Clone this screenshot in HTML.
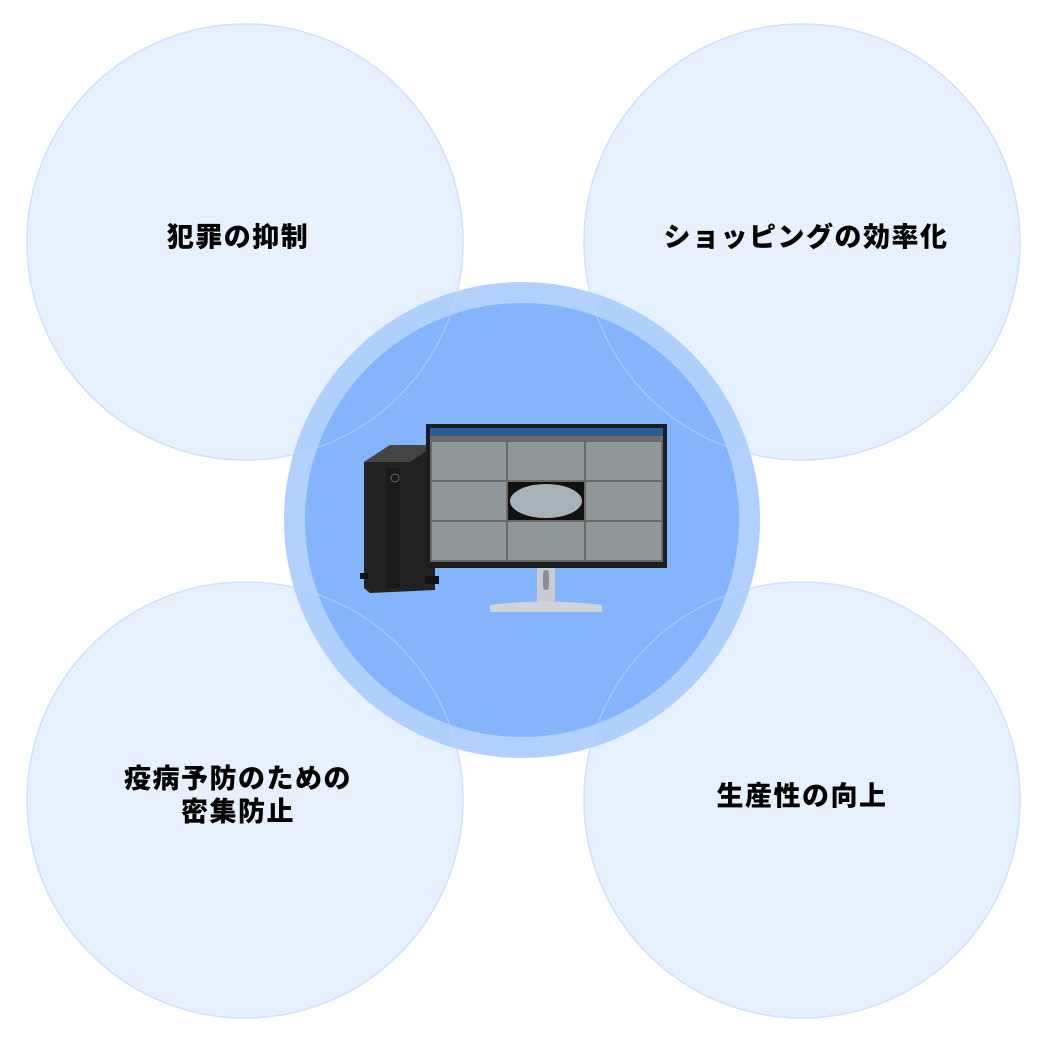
<!DOCTYPE html>
<html><head><meta charset="utf-8"><style>
body{margin:0;width:1045px;height:1041px;background:#fff;overflow:hidden;position:relative;font-family:"Liberation Sans","Noto Sans CJK JP",sans-serif}
.t{position:absolute;font-weight:900;font-size:27px;letter-spacing:1.5px;color:#000;text-align:center;line-height:33px;transform:translate(-50%,-50%);white-space:nowrap}
</style></head><body>
<svg width="1045" height="1041" style="position:absolute;left:0;top:0">
<g fill="#e6f0fe" stroke="#d3e3fb" stroke-width="1.5">
<circle cx="245" cy="242" r="218"/><circle cx="802" cy="242" r="218"/>
<circle cx="245" cy="800" r="218"/><circle cx="802" cy="800" r="218"/>
</g>
<circle cx="522" cy="520" r="238" fill="#a9cbfd" fill-opacity="0.9"/>
<circle cx="522" cy="520" r="217" fill="#84b4fc"/>
<g fill="none" stroke="#c9ddfb" stroke-width="1" opacity="0.6">
<circle cx="245" cy="242" r="218"/><circle cx="802" cy="242" r="218"/>
<circle cx="245" cy="800" r="218"/><circle cx="802" cy="800" r="218"/>
</g>
<polygon points="364,462 390,445 435,445 435,590 370,593 364,588" fill="#222"/>
<polygon points="364,462 390,445 435,445 410,462" fill="#444"/>
<rect x="386" y="468" width="14" height="120" fill="#1a1a1a"/>
<circle cx="395" cy="478" r="4" fill="none" stroke="#666"/>
<rect x="360" y="573" width="8" height="6" fill="#111"/><rect x="425" y="576" width="14" height="8" fill="#111"/>
<rect x="537" y="566" width="18" height="36" fill="#c8ccd2"/>
<rect x="543" y="570" width="6" height="20" rx="3" fill="#8a8f96"/>
<path d="M490,605 Q545,598 602,605 L602,612 L490,612 Z" fill="#d0d4d9"/>
<rect x="426" y="424" width="241" height="144" fill="#1b1d22"/>
<rect x="430" y="428" width="233" height="8" fill="#2a5d96"/>
<rect x="430" y="436" width="233" height="126" fill="#6b6a66"/>
<g fill="#9aa4aa" opacity="0.8">
<rect x="432" y="442" width="74" height="38"/><rect x="508" y="442" width="76" height="38"/><rect x="586" y="442" width="75" height="38"/>
<rect x="432" y="482" width="74" height="38"/><rect x="586" y="482" width="75" height="38"/>
<rect x="432" y="522" width="74" height="38"/><rect x="508" y="522" width="76" height="38"/><rect x="586" y="522" width="75" height="38"/>
</g>
<rect x="508" y="482" width="76" height="38" fill="#111"/>
<ellipse cx="546" cy="501" rx="36" ry="17" fill="#a8b3b8"/>
</svg>
<div class="t" style="left:238px;top:238px">犯罪の抑制</div>
<div class="t" style="left:806px;top:238px">ショッピングの効率化</div>
<div class="t" style="left:238px;top:796px">疫病予防のための<br>密集防止</div>
<div class="t" style="left:802px;top:797px">生産性の向上</div>
</body></html>
